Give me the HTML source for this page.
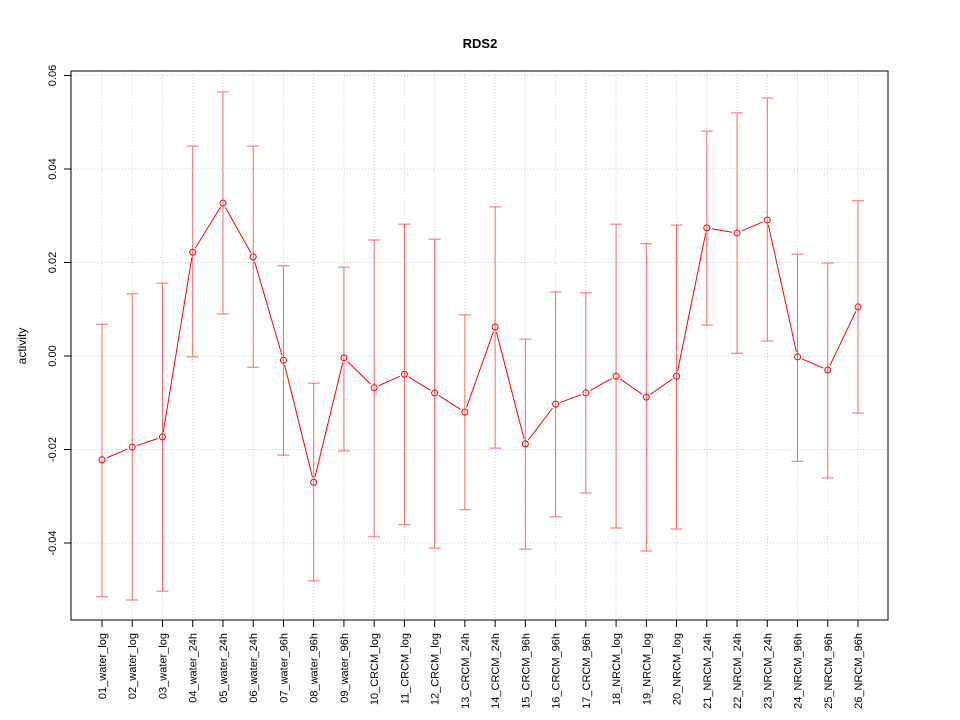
<!DOCTYPE html>
<html><head><meta charset="utf-8"><style>body{margin:0;background:#fff}svg{display:block;font-family:"Liberation Sans",sans-serif}</style></head>
<body>
<svg id="chart" width="960" height="720" xmlns="http://www.w3.org/2000/svg">
<rect width="960" height="720" fill="#fff"/>
<text x="480" y="48" text-anchor="middle" font-size="13" font-weight="bold">RDS2</text>
<text transform="translate(26,346) rotate(-90)" text-anchor="middle" font-size="12">activity</text>
<g id="grid"></g><g id="axes"></g><g id="marks"></g>
<rect x="71" y="71" width="817" height="549" fill="none" stroke="#000"/>
</svg>
<script>
const categories=["01_water_log","02_water_log","03_water_log","04_water_24h","05_water_24h","06_water_24h","07_water_96h","08_water_96h","09_water_96h","10_CRCM_log","11_CRCM_log","12_CRCM_log","13_CRCM_24h","14_CRCM_24h","15_CRCM_96h","16_CRCM_96h","17_CRCM_96h","18_NRCM_log","19_NRCM_log","20_NRCM_log","21_NRCM_24h","22_NRCM_24h","23_NRCM_24h","24_NRCM_96h","25_NRCM_96h","26_NRCM_96h"];
const means=[-0.0222,-0.0195,-0.0173,0.0222,0.0327,0.0212,-0.0009,-0.027,-0.0004,-0.0068,-0.0039,-0.0079,-0.012,0.0062,-0.0188,-0.0103,-0.0079,-0.0043,-0.0088,-0.0043,0.0274,0.0263,0.0291,-0.0002,-0.003,0.0105];
const upper=[0.0068,0.0133,0.0156,0.0449,0.0565,0.0449,0.0193,-0.0058,0.019,0.0248,0.0282,0.025,0.0088,0.0319,0.0036,0.0137,0.0135,0.0282,0.024,0.028,0.0481,0.052,0.0552,0.0218,0.0199,0.0332];
const lower=[-0.0515,-0.0522,-0.0503,-0.0002,0.009,-0.0024,-0.0212,-0.0481,-0.0203,-0.0387,-0.0361,-0.0411,-0.0329,-0.0197,-0.0413,-0.0344,-0.0293,-0.0368,-0.0417,-0.037,0.0066,0.0006,0.0032,-0.0225,-0.0261,-0.0122];
const yTicks=[-0.04,-0.02,0,0.02,0.04,0.06];
const yTickLabels=["-0.04","-0.02","0.00","0.02","0.04","0.06"];
const NS="http://www.w3.org/2000/svg";
function y(v){return 356-v*4675;}
function x(i){return 102+i*(756/(categories.length-1));}
function mk(tag,attrs,parent,text){const e=document.createElementNS(NS,tag);for(const k in attrs)e.setAttribute(k,attrs[k]);if(text!==undefined)e.textContent=text;parent.appendChild(e);return e;}
const grid=document.getElementById('grid'),axes=document.getElementById('axes'),marks=document.getElementById('marks');
categories.forEach((c,i)=>{
 const g=mk('line',{x1:x(i),x2:x(i),y1:71,y2:620,stroke:'#ccc','stroke-dasharray':'1,2'},grid);
 
 
 const t=mk('line',{x1:x(i),x2:x(i),y1:620,y2:627,stroke:'#000'},axes);
 
 
 const l=mk('text',{transform:`translate(${x(i)+4},633) rotate(-90)`,'text-anchor':'end','font-size':'11'},axes,c);
 
 
});
yTicks.forEach((v,i)=>{
 const g=mk('line',{x1:71,x2:888,y1:y(v),y2:y(v),stroke:'#ccc','stroke-dasharray':'1,2'},grid);
 
 
 const t=mk('line',{x1:64,x2:71,y1:y(v),y2:y(v),stroke:'#000'},axes);
 
 
 const l=mk('text',{transform:`translate(56,${y(v)}) rotate(-90)`,'text-anchor':'middle','font-size':'11'},axes,yTickLabels[i]);
 
 
});
mk('line',{x1:71,x2:71,y1:y(-0.04),y2:y(0.06),stroke:'#000'},axes);
mk('line',{x1:x(0),x2:x(categories.length-1),y1:620,y2:620,stroke:'#000'},axes);
categories.forEach((c,i)=>{
 const e=mk('path',{d:`M${x(i)},${y(upper[i])}V${y(lower[i])}M${x(i)-6},${y(upper[i])}h12M${x(i)-6},${y(lower[i])}h12`,stroke:'#f44','stroke-opacity':'0.8',fill:'none'},marks);
 
 
});
const gap=5;
for(let i=0;i<means.length-1;i++){
 const x1=x(i),y1=y(means[i]),x2=x(i+1),y2=y(means[i+1]);
 const dx=x2-x1,dy=y2-y1,L=Math.hypot(dx,dy);
 if(L<=2*gap)continue;
 const ux=dx/L,uy=dy/L;
 const s=mk('line',{x1:x1+ux*gap,y1:y1+uy*gap,x2:x2-ux*gap,y2:y2-uy*gap,stroke:'red'},marks);
 
 
}
means.forEach((m,i)=>{
 const p=mk('circle',{cx:x(i),cy:y(m),r:3,stroke:'red',fill:'none'},marks);
 
 
});
</script>
</body></html>
